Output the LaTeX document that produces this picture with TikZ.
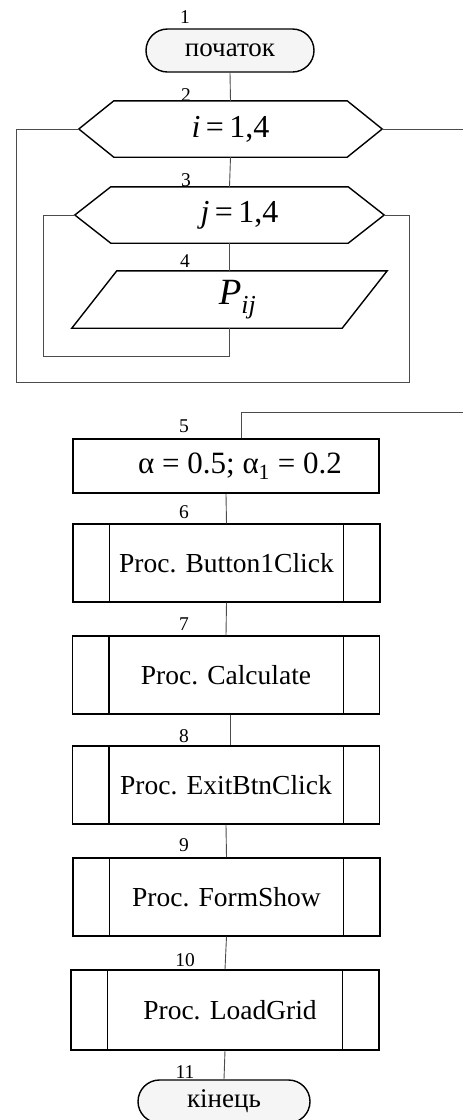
\documentclass[tikz,border=0pt]{standalone}
\usepackage{fontspec}
\setmainfont{Liberation Serif}
\usetikzlibrary{shapes.misc}

\begin{document}
\begin{tikzpicture}[x=1pt,y=-1pt,
    shapeline/.style={line width=1.4pt, black},
    flow/.style={line width=0.9pt, black!70},
    num/.style={font=\fontsize{19.5}{21}\selectfont, inner sep=0pt},
    term/.style={rounded rectangle, draw, line width=1.4pt, fill=gray!8, minimum height=43pt, inner sep=0pt, font=\fontsize{27}{30}\selectfont},
    loopbox/.style={minimum height=56pt, inner sep=0pt, font=\fontsize{32}{35}\selectfont},
    procbox/.style={draw, line width=1.4pt, minimum width=307pt, minimum height=78pt, inner sep=0pt, font=\fontsize{27.5}{30}\selectfont}]
    \useasboundingbox (0,0) rectangle (463,1120);

    % upper part: two nested loops
    \node[term, minimum width=168pt] (start) at (230,50.5) {початок};
    \node[loopbox, minimum width=303pt] (li) at (230.5,129) {\textit{i}\,=\,1,4};
    \node[loopbox, minimum width=309pt] (lj) at (229.5,215) {\hspace{20pt}\textit{j}\,=\,1,4};
    \node[minimum width=315pt, minimum height=57pt, inner sep=0pt, font=\fontsize{37}{40}\selectfont] (pij) at (229.5,299.5) {\hspace{16pt}\textit{P}\textsubscript{\textit{ij}}};
    \draw[shapeline] (li.west) -- ([xshift=35pt]li.north west) -- ([xshift=-35pt]li.north east) -- (li.east) -- ([xshift=-35pt]li.south east) -- ([xshift=35pt]li.south west) -- cycle;
    \draw[shapeline] (lj.west) -- ([xshift=36pt]lj.north west) -- ([xshift=-36pt]lj.north east) -- (lj.east) -- ([xshift=-36pt]lj.south east) -- ([xshift=36pt]lj.south west) -- cycle;
    \draw[shapeline] (pij.south west) -- ([xshift=45pt]pij.north west) -- (pij.north east) -- ([xshift=-45pt]pij.south east) -- cycle;
    \node[num] (n1) at (185,17) {1};
    \node[num] (n2) at (186,95) {2};
    \node[num] (n3) at (186,180) {3};
    \node[num] (n4) at (185,261) {4};

    \coordinate (outI) at (463,129);
    \draw[flow] (start.south) -- (li.north);
    \draw[flow] (li.south) -- (lj.north);
    \draw[flow] (lj.south) -- (pij.north);
    \draw[flow] (li.east) -- (outI);
    \draw[flow] (pij.south) -- ++(0,28) -| ([xshift=-31pt]lj.west) -- (lj.west);
    \draw[flow] (lj.east) -- ++(25,0) |- (16,382) |- (li.west);

    % lower part: procedures
    \coordinate (inR) at (463,412);
    \node[draw, line width=2pt, minimum width=306pt, minimum height=54pt, inner sep=0pt, font=\fontsize{31}{34}\selectfont] (init) at (226,466) {\hspace{28pt}α = 0.5; α\textsubscript{1} = 0.2};
    \node[procbox] (b6) at (226.5,563) {Proc. Button1Click};
    \node[procbox] (b7) at (226,675) {Proc. Calculate\hspace{12pt}};
    \node[procbox] (b8) at (226,785) {Proc. ExitBtnClick};
    \node[procbox] (b9) at (226.5,897) {Proc. FormShow\hspace{12pt}};
    \node[procbox, minimum width=308pt, minimum height=80pt] (b10) at (225,1010) {\hspace{10pt}Proc. LoadGrid};
    \node[term, minimum width=172pt] (stop) at (224,1101.5) {кінець};
    \foreach \b in {b6,b7,b8,b9,b10}
        \draw[shapeline] ([xshift=37pt]\b.north west) -- ([xshift=37pt]\b.south west)
            ([xshift=-37pt]\b.north east) -- ([xshift=-37pt]\b.south east);
    \node[num] (n5) at (184,426) {5};
    \node[num] (n6) at (184,512) {6};
    \node[num] (n7) at (184,624) {7};
    \node[num] (n8) at (184,736) {8};
    \node[num] (n9) at (184,845) {9};
    \node[num] (n10) at (185,960) {10};
    \node[num] (n11) at (185,1072) {11};

    \draw[flow] (inR) -| ([xshift=15pt]init.north);
    \draw[flow] (init.south) -- (b6.north);
    \draw[flow] (b6.south) -- (b7.north);
    \draw[flow] ([xshift=4pt]b7.south) -- ([xshift=4pt]b8.north);
    \draw[flow] (b8.south) -- (b9.north);
    \draw[flow] (b9.south) -- (b10.north);
    \draw[flow] (b10.south) -- (stop.north);
\end{tikzpicture}
\end{document}
